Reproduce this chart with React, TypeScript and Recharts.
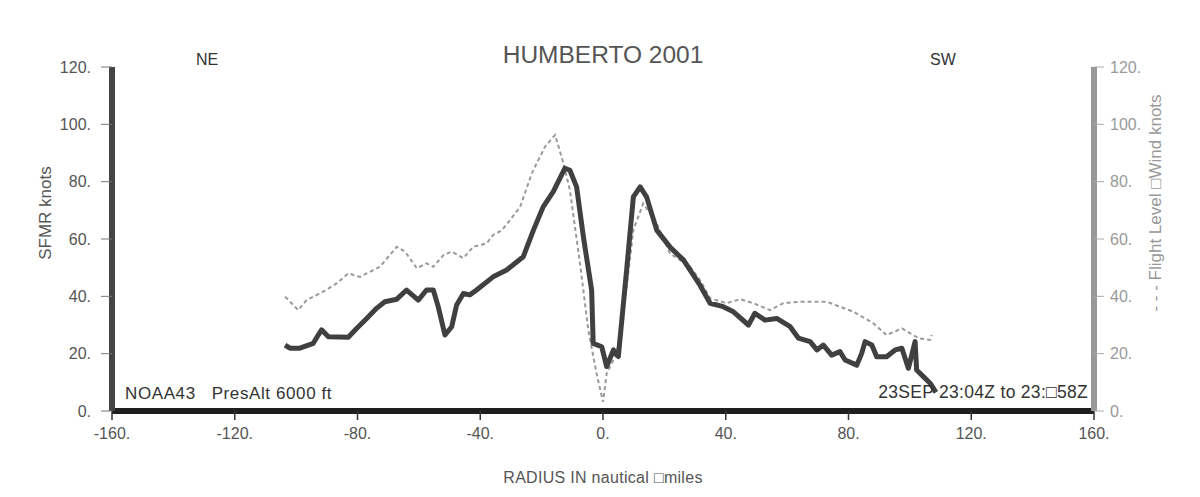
import { LineChart, Line, XAxis, YAxis } from "recharts";

const sfmrRadius = [
  -103.6, -102, -98.8, -94.4, -92.8, -91.7, -89.5, -83, -80.3, -77, -73.8,
  -71.1, -67.2, -64, -60.2, -57.5, -55.3, -53.7, -51.5, -49.3, -47.7, -45.5,
  -43.4, -41.2, -35.8, -31.4, -26, -22.7, -19.5, -16.2, -12.4, -10.8, -8.6,
  -6.4, -3.7, -3.2, -0.4, 1.2, 3.4, 5, 7.7, 9.9, 12.1, 14.2, 17.5, 22, 26.2,
  31.6, 34.9, 39.2, 42.5, 47.4, 49.5, 52.8, 56.6, 61, 63.7, 67.5, 69.7, 71.8,
  74.5, 77.2, 78.9, 82.7, 84.3, 85.4, 87.6, 89.2, 92.4, 95.2, 97.4, 99.5,
  100.6, 101.7, 102.2, 104.4, 106.6, 108.5,
];
const sfmrKnots = [
  23, 21.9, 21.9, 23.6, 26.5, 28.3, 25.9, 25.7, 28.8, 32.3, 35.8, 38.1, 39,
  42.2, 38.7, 42.2, 42.2, 36.4, 26.5, 29.4, 37, 41, 40.5, 42.2, 46.8, 49.2,
  53.8, 63, 71.2, 76.5, 84.7, 84, 78.2, 60.8, 42.2, 23.6, 22.4, 15.5, 21.3,
  19, 49.2, 74.7, 78.2, 74.7, 63.1, 57, 52.7, 43.9, 37.6, 36.4, 34.6, 30,
  34.1, 31.7, 32.3, 29.4, 25.4, 24.2, 21.3, 23, 19.5, 20.7, 17.8, 16, 20.1,
  24.2, 23, 18.9, 18.9, 21.3, 21.9, 14.9, 19.5, 24.2, 14.3, 12, 9.7, 6.5,
];

const flightRadius = [
  -103.6, -99.3, -96.6, -91.2, -86.8, -83, -79.2, -72.7, -67.2, -64.5, -60.7,
  -57.5, -55.3, -52, -49.3, -45.5, -42.3, -37.9, -35.8, -33, -30.3, -27,
  -23.2, -18.9, -15.6, -12.9, -10.8, -7.5, -4.8, -2.1, 0, 1.2, 4.5, 7.7, 9.9,
  13.1, 17.5, 21.8, 28.4, 31.6, 34.9, 40.3, 44.7, 49, 54.4, 58.8, 64.2, 72.9,
  77.2, 81.6, 88.1, 92.4, 97.4, 100.1, 102.8, 106.6, 107.1,
];
const flightKnots = [
  39.9, 35.2, 38.7, 41.6, 44.5, 48, 46.8, 50.3, 57.3, 55.6, 49.8, 51.5, 50.3,
  54.4, 55.6, 53.3, 57.3, 58.5, 61.4, 63, 66.6, 71.2, 82.9, 92.2, 96.3, 86.4,
  77.1, 51.5, 28.3, 13.1, 3.2, 13.1, 20.1, 43.4, 63.1, 72.4, 65.4, 55, 50.3,
  45.7, 39.3, 37.6, 39, 37.6, 35.2, 37.6, 38.1, 38.1, 36.4, 34.6, 30.6, 26.5,
  28.8, 27.1, 25.4, 24.8, 26.5,
];

const radiusTicks = [-160, -120, -80, -40, 0, 40, 80, 120, 160];
const knotTicks = [0, 20, 40, 60, 80, 100, 120];

const sfmrData = sfmrRadius.map((r, i) => ({ r, v: sfmrKnots[i] }));
const flightData = flightRadius.map((r, i) => ({ r, v: flightKnots[i] }));

const FONT = '"Liberation Sans", Arial, sans-serif';
const fmt = (v: number) => `${v}.`;

function Txt({
  x,
  y,
  size,
  color = "#555",
  rotate = 0,
  anchor = "center",
  spacing = 0,
  children,
}: {
  x: number;
  y: number;
  size: number;
  color?: string;
  rotate?: number;
  anchor?: "center" | "left" | "right";
  spacing?: number;
  children: string;
}) {
  const tx = anchor === "center" ? "-50%" : anchor === "right" ? "-100%" : "0";
  return (
    <div
      style={{
        position: "absolute",
        left: x,
        top: y,
        transform: `translate(${tx}, -50%) rotate(${rotate}deg)`,
        whiteSpace: "pre",
        fontFamily: FONT,
        fontSize: size,
        letterSpacing: spacing,
        color,
        lineHeight: 1,
      }}
    >
      {children}
    </div>
  );
}

export default function App() {
  return (
    <div
      style={{
        position: "absolute",
        left: 0,
        top: 0,
        width: 1200,
        height: 497,
        background: "#fff",
      }}
    >
      <LineChart
        width={1200}
        height={497}
        margin={{ top: 67, right: 46, bottom: 56, left: 52 }}
      >
        <XAxis
          dataKey="r"
          type="number"
          domain={[-160, 160]}
          ticks={radiusTicks}
          tickFormatter={fmt}
          allowDataOverflow
          height={30}
          axisLine={{ stroke: "#1e1e1e", strokeWidth: 6 }}
          tickLine={{ stroke: "#333", strokeWidth: 1.5 }}
          tickSize={9}
          tickMargin={8}
          tick={{ fill: "#555", fontSize: 16, fontFamily: FONT }}
        />
        <YAxis
          yAxisId="left"
          domain={[0, 120]}
          ticks={knotTicks}
          tickFormatter={fmt}
          width={60}
          axisLine={{ stroke: "#444", strokeWidth: 6 }}
          tickLine={{ stroke: "#777" }}
          tickSize={11}
          tickMargin={10}
          tick={{ fill: "#555", fontSize: 16, fontFamily: FONT }}
        />
        <YAxis
          yAxisId="right"
          orientation="right"
          domain={[0, 120]}
          ticks={knotTicks}
          tickFormatter={fmt}
          width={60}
          axisLine={{ stroke: "#999", strokeWidth: 6 }}
          tickLine={{ stroke: "#aaa" }}
          tickSize={10}
          tickMargin={6}
          tick={{ fill: "#999", fontSize: 16, fontFamily: FONT }}
        />
        <Line
          yAxisId="right"
          data={flightData}
          dataKey="v"
          type="linear"
          stroke="#9a9a9a"
          strokeWidth={2}
          strokeDasharray="4 3"
          dot={false}
          isAnimationActive={false}
        />
        <Line
          yAxisId="left"
          data={sfmrData}
          dataKey="v"
          type="linear"
          stroke="#404040"
          strokeWidth={5}
          strokeLinejoin="round"
          dot={false}
          isAnimationActive={false}
        />
      </LineChart>

      <Txt x={603} y={55} size={24.5} color="#555">HUMBERTO 2001</Txt>
      <Txt x={207} y={60} size={16} color="#333">NE</Txt>
      <Txt x={943} y={60} size={16} color="#333">SW</Txt>
      <Txt x={125} y={393} size={17} color="#333" anchor="left" spacing={0.6}>
        NOAA43   PresAlt 6000 ft
      </Txt>
      <Txt x={1088} y={393} size={17.5} color="#333" anchor="right" spacing={0.3}>
        23SEP 23:04Z to 23:□58Z
      </Txt>
      <Txt x={603} y={478} size={16} color="#555" spacing={0.3}>
        RADIUS IN nautical □miles
      </Txt>
      <Txt x={45} y={213} size={17} color="#555" rotate={-90}>SFMR knots</Txt>
      <Txt x={1155} y={203} size={17} color="#999" rotate={-90}>
        - - - Flight Level □Wind knots
      </Txt>
    </div>
  );
}
